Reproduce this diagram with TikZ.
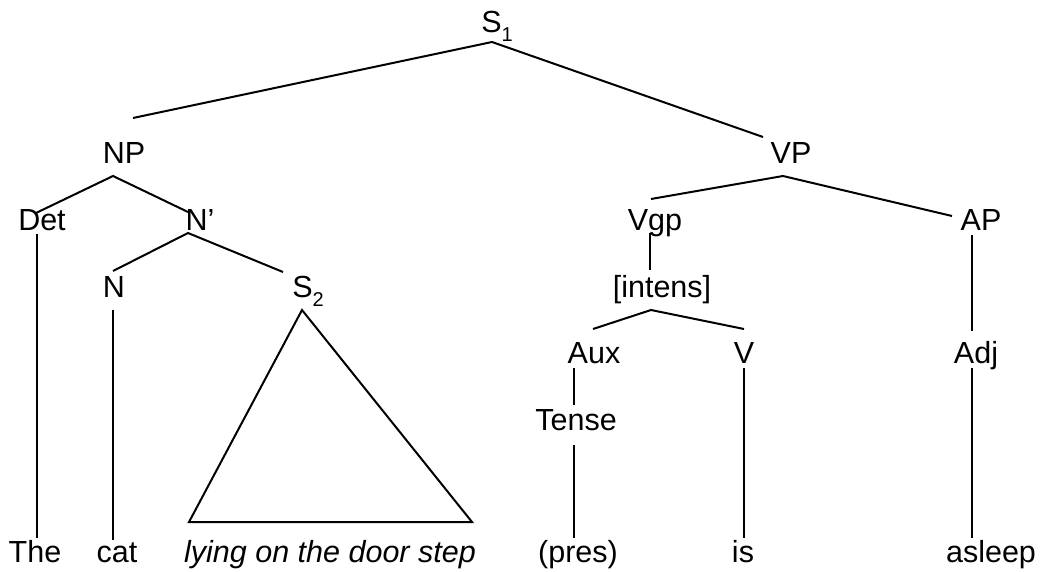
\documentclass[tikz,border=0pt]{standalone}
\usepackage{fontspec}
\setmainfont{Liberation Sans}
\newcommand{\lsub}[1]{\raisebox{-9pt}{\fontsize{20}{20}\selectfont #1}}
\begin{document}
\begin{tikzpicture}[x=1pt,y=-1pt,
  lbl/.style={anchor=base, inner sep=0pt, font=\fontsize{30.5}{32}\selectfont},
  word/.style={lbl},
  edge/.style={line width=2pt}]
\useasboundingbox[fill=white] (0,0) rectangle (1051,572);

% labels
\node[lbl] (S1) at (497,33) {S\lsub{1}};
\node[lbl] (NP) at (124,164) {NP};
\node[lbl] (VP) at (791,164) {VP};
\node[lbl] (Det) at (42,230) {Det};
\node[lbl] (Nbar) at (200,230) {N’};
\node[lbl] (Vgp) at (655,230) {Vgp};
\node[lbl] (AP) at (981,230) {AP};
\node[lbl] (N) at (114,297) {N};
\node[lbl] (S2) at (308,297) {S\lsub{2}};
\node[lbl] (intens) at (662,297) {[intens]};
\node[lbl] (Aux) at (594,363) {Aux};
\node[lbl] (V) at (744,363) {V};
\node[lbl] (Adj) at (976,363) {Adj};
\node[lbl] (Tense) at (576,430) {Tense};

\node[word] (the) at (35,562) {The};
\node[word] (cat) at (117,562) {cat};
\node[word,font=\fontsize{30.5}{32}\selectfont\itshape] (lying) at (330,562) {lying on the door step};
\node[word] (pres) at (578,562) {(pres)};
\node[word] (is) at (743,562) {is};
\node[word] (asleep) at (991,562) {asleep};

% connector end points
\coordinate (S1-b) at (492,42);
\coordinate (NP-t) at (133,118);
\coordinate (VP-t) at (763,137);
\coordinate (NP-b) at (113,176);
\coordinate (Det-t) at (36,213);
\coordinate (Nbar-t) at (188,212);
\coordinate (Det-b) at (37,234);
\coordinate (the-t) at (37,538);
\coordinate (Nbar-b) at (188,233);
\coordinate (N-t) at (113,271);
\coordinate (S2-t) at (283,272);
\coordinate (N-b) at (113,310);
\coordinate (cat-t) at (113,540);
\coordinate (tri-a) at (302,310);
\coordinate (tri-l) at (189,522);
\coordinate (tri-r) at (472,522);
\coordinate (VP-b) at (783,176);
\coordinate (Vgp-t) at (651,199);
\coordinate (AP-t) at (952,216);
\coordinate (Vgp-b) at (650,233);
\coordinate (intens-t) at (650,270);
\coordinate (intens-b) at (651,310);
\coordinate (Aux-t) at (593,329);
\coordinate (V-t) at (744,329);
\coordinate (AP-b) at (972,235);
\coordinate (Adj-t) at (972,331);
\coordinate (Aux-b) at (574,368);
\coordinate (Tense-t) at (574,405);
\coordinate (Tense-b) at (574,445);
\coordinate (pres-t) at (574,538);
\coordinate (V-b) at (744,368);
\coordinate (is-t) at (744,538);
\coordinate (Adj-b) at (972,368);
\coordinate (asleep-t) at (972,538);

% connectors
\draw[edge] (NP-t) -- (S1-b) -- (VP-t);
\draw[edge] (Det-t) -- (NP-b) -- (Nbar-t);
\draw[edge] (Det-b) -- (the-t);
\draw[edge] (N-t) -- (Nbar-b) -- (S2-t);
\draw[edge] (N-b) -- (cat-t);
\draw[edge] (tri-a) -- (tri-l) -- (tri-r) -- cycle;
\draw[edge] (Vgp-t) -- (VP-b) -- (AP-t);
\draw[edge] (Vgp-b) -- (intens-t);
\draw[edge] (Aux-t) -- (intens-b) -- (V-t);
\draw[edge] (AP-b) -- (Adj-t);
\draw[edge] (Aux-b) -- (Tense-t);
\draw[edge] (Tense-b) -- (pres-t);
\draw[edge] (V-b) -- (is-t);
\draw[edge] (Adj-b) -- (asleep-t);
\end{tikzpicture}
\end{document}
